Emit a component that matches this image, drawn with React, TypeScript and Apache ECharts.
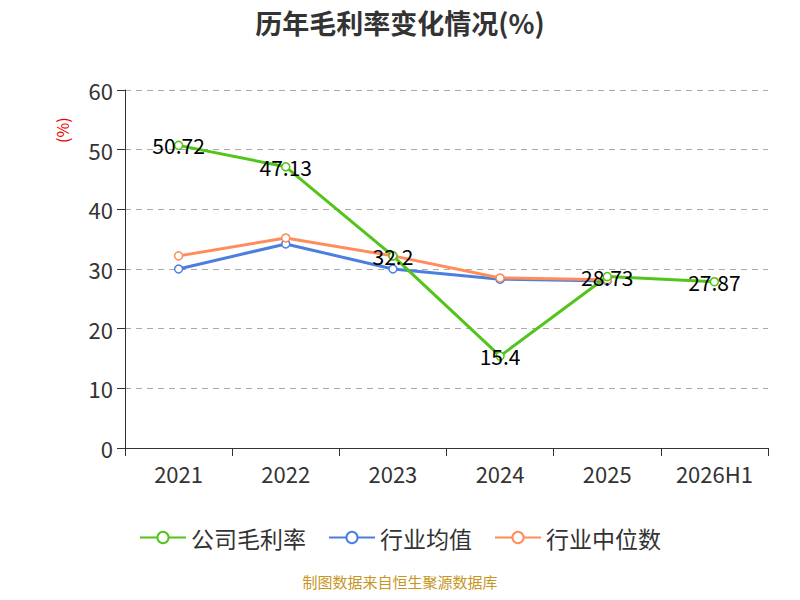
import { useEffect, useRef } from 'react';
import * as echarts from 'echarts';

const categories = ['2021', '2022', '2023', '2024', '2025', '2026H1'];
const companyMargin = [50.72, 47.13, 32.2, 15.4, 28.73, 27.87];
const industryAvg = [30.0, 34.2, 30.0, 28.3, 28.0, null];
const industryMedian = [32.2, 35.2, 32.2, 28.5, 28.2, null];

export default function App() {
    const chartRef = useRef<HTMLDivElement>(null);

    useEffect(() => {
        if (!chartRef.current) return;
        const chart = echarts.init(chartRef.current, undefined, { renderer: 'svg' });
        const font = '"Noto Sans CJK SC", "Noto Sans", sans-serif';
        const lineSeries = (name: string, data: (number | null)[], color: string, label: boolean) => ({
            name,
            type: 'line',
            data,
            symbol: 'circle',
            symbolSize: 8,
            lineStyle: { width: 3, color },
            itemStyle: { color: '#fff', borderColor: color, borderWidth: 1.5 },
            label: label ? { show: true, position: 'inside', fontSize: 21, color: '#000', fontFamily: font } : { show: false },
            z: label ? 3 : 2,
        });
        chart.setOption({
            animation: false,
            textStyle: { fontFamily: font },
            title: {
                text: '历年毛利率变化情况(%)',
                left: 'center',
                top: -4,
                textStyle: { fontSize: 27, fontWeight: 'bold', color: '#333' },
            },
            grid: { left: 117, right: 24, top: 82, bottom: 144 },
            legend: {
                bottom: 38,
                itemWidth: 46,
                itemHeight: 14,
                itemGap: 22,
                textStyle: { fontSize: 23, color: '#333' },
                data: ['公司毛利率', '行业均值', '行业中位数'],
            },
            graphic: [
                {
                    type: 'text',
                    left: 'center',
                    top: 566,
                    style: { text: '制图数据来自恒生聚源数据库', fontSize: 15, fill: '#c8961e', fontFamily: font },
                },
                {
                    type: 'text',
                    x: 46,
                    y: 135,
                    rotation: Math.PI / 2,
                    style: { text: '(%)', fontSize: 16, fill: '#e00', fontFamily: font },
                },
            ],
            xAxis: {
                type: 'category',
                data: categories,
                axisTick: { show: true, length: 8 },
                axisLine: { lineStyle: { color: '#333' } },
                axisLabel: { fontSize: 22, color: '#333', margin: 14 },
            },
            yAxis: {
                type: 'value',
                min: 0,
                max: 60,
                interval: 10,
                axisLine: { show: true, lineStyle: { color: '#333' } },
                axisTick: { show: true, length: 8 },
                axisLabel: { fontSize: 22, color: '#333', margin: 12 },
                splitLine: { lineStyle: { type: [6, 5], color: '#aaa', width: 1.2 } },
            },
            series: [
                lineSeries('公司毛利率', companyMargin, '#52c41a', true),
                lineSeries('行业均值', industryAvg, '#4a7fe0', false),
                lineSeries('行业中位数', industryMedian, '#ff8c5a', false),
            ],
        });
        return () => chart.dispose();
    }, []);

    return <div ref={chartRef} style={{ width: 784, height: 584 }} />;
}
